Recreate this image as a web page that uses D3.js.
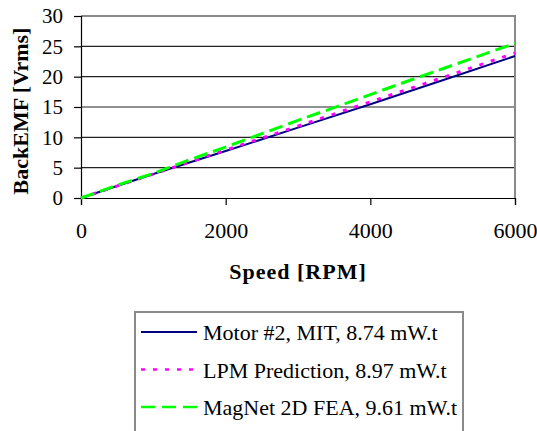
<!DOCTYPE html>
<html>
<head>
<meta charset="utf-8">
<script src="https://cdn.jsdelivr.net/npm/d3@7"></script>
<style>
  body { margin: 0; background: #fff; }
  text { font-family: "Liberation Serif", "Times New Roman", serif; fill: #000; }
</style>
</head>
<body>
<div id="chart"></div>
<script>
// Speed values (RPM)
const speedsCoarse = [0, 1000, 2000, 3000, 4000, 5000, 6000];
const speedsFine = [0, 500, 1000, 1500, 2000, 2500, 3000, 3500, 4000, 4500, 5000, 5500, 6000];

// BackEMF values (Vrms)
const motorMit = [0, 3.95, 7.75, 11.6, 15.45, 19.4, 23.4];
const lpmPrediction = [0, 3.95, 7.9, 11.85, 15.85, 19.85, 23.9];
const magnetFea = [0, 2.1, 4.05, 6.3, 8.4, 10.6, 12.8, 14.9, 17.05, 19.2, 21.3, 23.4, 25.5];

const xTicks = [0, 2000, 4000, 6000];
const yTicks = [0, 5, 10, 15, 20, 25, 30];

const seriesNames = ["Motor #2, MIT, 8.74 mW.t", "LPM Prediction, 8.97 mW.t", "MagNet 2D FEA, 9.61 mW.t"];
const seriesColors = ["#000080", "#ff00ff", "#00ff00"];

const width = 537;
const height = 431;

const svg = d3.select('#chart')
  .append('svg')
  .attr('width', width)
  .attr('height', height);

svg.append('rect').attr('width', width).attr('height', height).attr('fill', '#fff');

const x = d3.scaleLinear().domain([0, 6000]).range([81, 515]);
const y = d3.scaleLinear().domain([0, 30]).range([198, 16]);

// gridlines
svg.append('g')
  .selectAll('line')
  .data(yTicks.filter(d => d > 0 && d < 30))
  .join('line')
  .attr('x1', x(0)).attr('x2', x(6000))
  .attr('y1', d => y(d)).attr('y2', d => y(d))
  .attr('stroke', '#222').attr('stroke-width', 1.2);

// plot border (top + right, gray)
svg.append('path')
  .attr('d', `M${x(0)},${y(30)}H${x(6000)}V${y(0)}`)
  .attr('fill', 'none')
  .attr('stroke', '#8a8a8a')
  .attr('stroke-width', 2);

// x axis
const xAxis = svg.append('g')
  .attr('transform', `translate(0,${y(0)})`)
  .call(d3.axisBottom(x).tickValues(xTicks).tickSize(7).tickPadding(17).tickFormat(d3.format('d')));
xAxis.select('.domain').attr('stroke', '#000').attr('stroke-width', 1.2);
xAxis.selectAll('.tick line').attr('stroke', '#000').attr('stroke-width', 1.2);
xAxis.selectAll('text').attr('font-size', 22).attr('font-family', '"Liberation Serif", serif').attr('fill', '#000');

// y axis
const yAxis = svg.append('g')
  .attr('transform', `translate(${x(0)},0)`)
  .call(d3.axisLeft(y).tickValues(yTicks).tickSize(7).tickPadding(11));
yAxis.select('.domain').attr('stroke', '#000').attr('stroke-width', 1.2);
yAxis.selectAll('.tick line').attr('stroke', '#000').attr('stroke-width', 1.2);
yAxis.selectAll('text').attr('font-size', 21).attr('font-family', '"Liberation Serif", serif').attr('fill', '#000');

// axis titles
svg.append('text')
  .text('BackEMF [Vrms]')
  .attr('transform', `translate(28,${(y(0) + y(30)) / 2 + 4}) rotate(-90)`)
  .attr('text-anchor', 'middle')
  .attr('font-weight', 'bold')
  .attr('font-size', 22);

svg.append('text')
  .text('Speed [RPM]')
  .attr('x', (x(0) + x(6000)) / 2)
  .attr('y', 279)
  .attr('text-anchor', 'middle')
  .attr('font-weight', 'bold')
  .attr('font-size', 22)
  .attr('letter-spacing', 1);

// series lines
const line = d3.line().x(d => x(d[0])).y(d => y(d[1]));

svg.append('path')
  .datum(d3.zip(speedsCoarse, motorMit))
  .attr('d', line)
  .attr('fill', 'none')
  .attr('stroke', seriesColors[0])
  .attr('stroke-width', 2);

svg.append('path')
  .datum(d3.zip(speedsCoarse, lpmPrediction))
  .attr('d', line)
  .attr('fill', 'none')
  .attr('stroke', seriesColors[1])
  .attr('stroke-width', 3)
  .attr('stroke-dasharray', '4,8');

svg.append('path')
  .datum(d3.zip(speedsFine, magnetFea))
  .attr('d', line)
  .attr('fill', 'none')
  .attr('stroke', seriesColors[2])
  .attr('stroke-width', 3)
  .attr('stroke-dasharray', '14,6');

// legend
const legend = svg.append('g');
legend.append('rect')
  .attr('x', 135).attr('y', 312)
  .attr('width', 328).attr('height', 140)
  .attr('fill', 'none')
  .attr('stroke', '#8a8a8a')
  .attr('stroke-width', 2);

const legendDash = [null, '4,8', '14,7'];
const legendWidth = [2, 2.5, 2.5];
seriesNames.forEach((name, i) => {
  const ly = 332 + i * 37.5;
  legend.append('line')
    .attr('x1', 141).attr('x2', 197)
    .attr('y1', ly).attr('y2', ly)
    .attr('stroke', seriesColors[i])
    .attr('stroke-width', legendWidth[i])
    .attr('stroke-dasharray', legendDash[i]);
  legend.append('text')
    .text(name)
    .attr('x', 203)
    .attr('y', ly + 8)
    .attr('font-size', 22);
});
</script>
</body>
</html>
